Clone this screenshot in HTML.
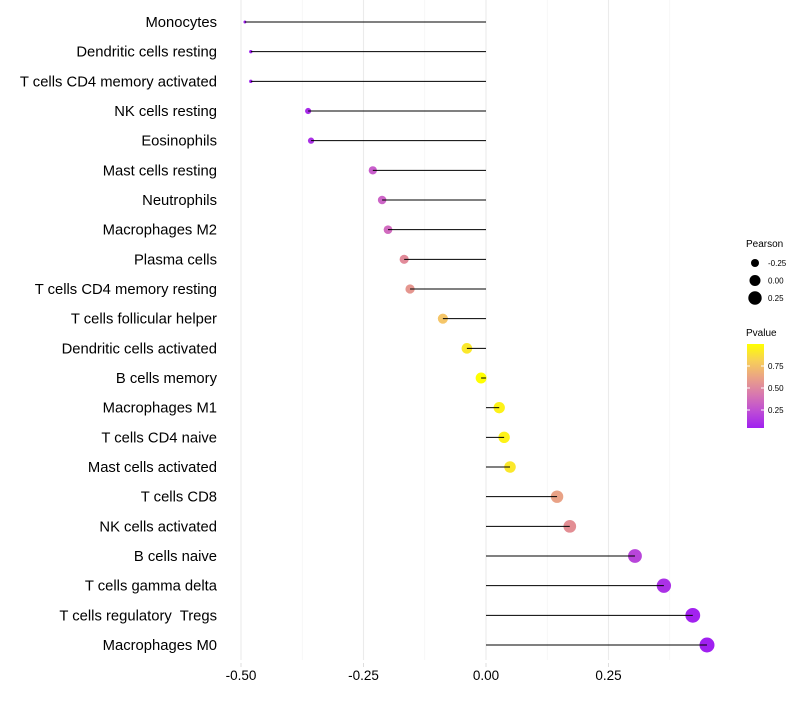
<!DOCTYPE html>
<html><head><meta charset="utf-8"><style>
body{margin:0;background:#fff;}
svg text{font-family:"Liberation Sans",sans-serif;white-space:pre;}
</style></head><body>
<svg id="chart" width="800" height="700" xmlns="http://www.w3.org/2000/svg">
<g id="grid"></g><g id="dots"></g><g id="marks"></g><g id="labels"></g><g id="legend"></g>
</svg>
<script>
const categories=["Monocytes","Dendritic cells resting","T cells CD4 memory activated","NK cells resting","Eosinophils","Mast cells resting","Neutrophils","Macrophages M2","Plasma cells","T cells CD4 memory resting","T cells follicular helper","Dendritic cells activated","B cells memory","Macrophages M1","T cells CD4 naive","Mast cells activated","T cells CD8","NK cells activated","B cells naive","T cells gamma delta","T cells regulatory  Tregs","Macrophages M0"];
const pearson=[-0.492,-0.48,-0.48,-0.363,-0.357,-0.231,-0.212,-0.2,-0.167,-0.155,-0.088,-0.039,-0.01,0.027,0.037,0.049,0.145,0.171,0.304,0.363,0.422,0.451];
const pvalue=[0.02,0.03,0.03,0.1,0.12,0.3,0.33,0.36,0.5,0.55,0.75,0.88,0.97,0.92,0.92,0.88,0.6,0.52,0.2,0.12,0.06,0.04];
const xTicks=[-0.5,-0.25,0,0.25];
const xTickLabels=["-0.50","-0.25","0.00","0.25"];
const ns="http://www.w3.org/2000/svg";
const x=v=>486+v*490;
const y=i=>22+i*(623/21);
const r=v=>Math.sqrt(Math.max(1,2.25+54*(v+0.49)/0.94));
function lerp(a,b,t){return Math.round(a+(b-a)*t);}
const stops=[[0,[160,32,240]],[0.3,[205,100,200]],[0.5,[226,140,150]],[0.75,[245,195,110]],[1,[255,255,0]]];
function col(p){
  const t=Math.max(0,Math.min(1,(p-0.05)/0.92));
  let k=0; while(k<stops.length-2&&t>stops[k+1][0])k++;
  const a=stops[k],b=stops[k+1];
  const u=(t-a[0])/(b[0]-a[0]);
  return `rgb(${lerp(a[1][0],b[1][0],u)},${lerp(a[1][1],b[1][1],u)},${lerp(a[1][2],b[1][2],u)})`;
}
function mk(tag,attrs,parent){const e=document.createElementNS(ns,tag);for(const k in attrs)e.setAttribute(k,attrs[k]);document.getElementById(parent).appendChild(e);return e;}
const grid="grid";
[-0.375,-0.125,0.125,0.375].forEach(v=>{const l=mk("line",{x1:x(v),x2:x(v),y1:0,y2:660,stroke:"#f2f2f2","stroke-width":0.6},grid);

});
xTicks.forEach((v,i)=>{const l=mk("line",{x1:x(v),x2:x(v),y1:0,y2:660,stroke:"#ebebeb","stroke-width":1.1},grid);


const tk=mk("line",{x1:x(v),x2:x(v),y1:663,y2:667,stroke:"#ddd","stroke-width":1},grid);


const t=mk("text",{x:x(v),y:680,"text-anchor":"middle","font-size":13.5,fill:"#000"},"labels");t.textContent=xTickLabels[i];

});
categories.forEach((c,i)=>{
 const t=mk("text",{x:217,y:y(i)+5,"text-anchor":"end","font-size":14.8,fill:"#000"},"labels");t.textContent=c;
 
 
 const d=mk("circle",{cx:x(pearson[i]),cy:y(i),r:r(pearson[i]),fill:col(pvalue[i])},"dots");
 
 
 const l=mk("line",{x1:x(0),x2:x(pearson[i]),y1:y(i),y2:y(i),stroke:"#000","stroke-width":1},"marks");
 
 
});
const lg="legend";
let t=mk("text",{x:746,y:247,"font-size":10},lg);t.textContent="Pearson";


[-0.25,0,0.25].forEach((v,i)=>{const yy=263+i*17.5;
 const c=mk("circle",{cx:755,cy:yy,r:r(v),fill:"#000"},lg);
 
 
 const tt=mk("text",{x:768,y:yy+3,"font-size":8},lg);tt.textContent=["-0.25","0.00","0.25"][i];
 
 });
t=mk("text",{x:746,y:336,"font-size":10},lg);t.textContent="Pvalue";


const defs=mk("defs",{},lg);
const g=document.createElementNS(ns,"linearGradient");g.setAttribute("id","pg");g.setAttribute("x1","0");g.setAttribute("y1","1");g.setAttribute("x2","0");g.setAttribute("y2","0");defs.appendChild(g);
[0,0.2,0.4,0.6,0.8,1].forEach(o=>{const s=document.createElementNS(ns,"stop");s.setAttribute("offset",o);s.setAttribute("stop-color",col(0.05+o*0.92));g.appendChild(s);});
const bar=mk("rect",{x:747,y:344,width:17,height:84,fill:"url(#pg)"},lg);


[[0.75,366],[0.5,388],[0.25,410]].forEach(([v,yy])=>{
 mk("line",{x1:747,x2:750,y1:yy,y2:yy,stroke:"#fff"},lg);mk("line",{x1:761,x2:764,y1:yy,y2:yy,stroke:"#fff"},lg);
 const tt=mk("text",{x:768,y:yy+3,"font-size":8},lg);tt.textContent=v.toFixed(2);
 
 });
</script>
</body></html>
